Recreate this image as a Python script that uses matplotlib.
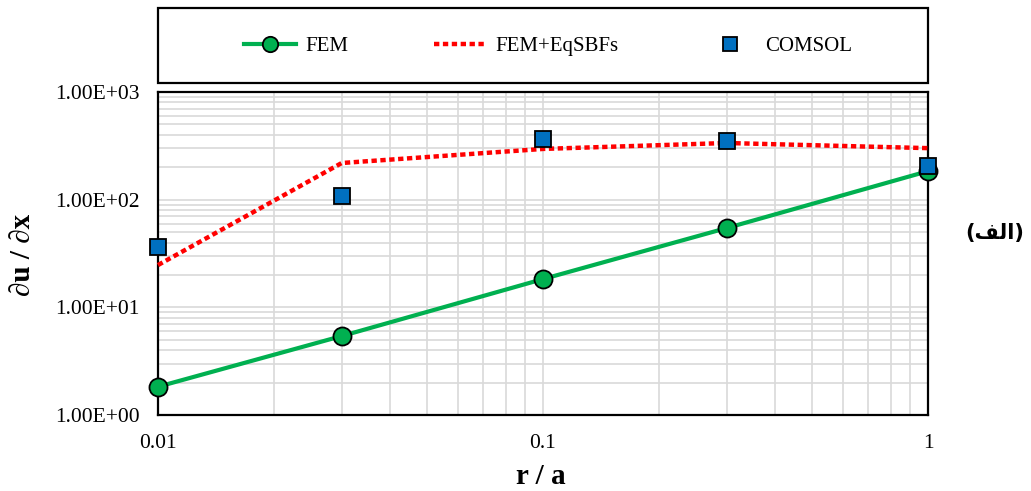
import matplotlib
matplotlib.use("Agg")
import matplotlib.pyplot as plt
from matplotlib.patches import Rectangle
from matplotlib.ticker import LogLocator, FixedLocator, FixedFormatter, NullFormatter

plt.rcParams['font.family'] = ['Liberation Serif', 'DejaVu Sans']

r_over_a = [0.01, 0.03, 0.1, 0.3, 1.0]
fem = [1.83, 5.41, 18.3, 54.5, 184]
fem_eqsbfs = [24.7, 219, 296, 336, 301]
comsol = [36.5, 109, 363, 352, 205]

x_ticks = [0.01, 0.1, 1]
x_tick_labels = ["0.01", "0.1", "1"]
y_ticks = [1, 10, 100, 1000]
y_tick_labels = ["1.00E+00", "1.00E+01", "1.00E+02", "1.00E+03"]

W, H = 1031, 491
fig = plt.figure(figsize=(W / 100, H / 100), dpi=100)
ax = fig.add_axes([158 / W, 1 - 415 / H, (928 - 158) / W, (415 - 92) / H])

grid_c = "#D9D9D9"
ax.set_xscale("log")
ax.set_yscale("log")
ax.set_xlim(0.01, 1)
ax.set_ylim(1, 1000)

ax.xaxis.set_major_locator(FixedLocator(x_ticks))
ax.xaxis.set_major_formatter(FixedFormatter(x_tick_labels))
ax.yaxis.set_major_locator(FixedLocator(y_ticks))
ax.yaxis.set_major_formatter(FixedFormatter(y_tick_labels))
ax.xaxis.set_minor_locator(LogLocator(base=10, subs=range(2, 10)))
ax.yaxis.set_minor_locator(LogLocator(base=10, subs=range(2, 10)))
ax.xaxis.set_minor_formatter(NullFormatter())
ax.yaxis.set_minor_formatter(NullFormatter())

ax.grid(True, which="both", color=grid_c, linewidth=1.2, zorder=0)
ax.set_axisbelow(True)
ax.tick_params(which="both", length=0, labelsize=15.5)
ax.tick_params(axis="y", pad=13)
ax.tick_params(axis="x", pad=14)

for s in ax.spines.values():
    s.set_linewidth(1.6)
    s.set_color("black")
    s.set_zorder(2)

ax.plot(r_over_a, fem, color="#00B050", linewidth=3, marker="o", markersize=13,
        markerfacecolor="#00B050", markeredgecolor="black", markeredgewidth=1.3,
        clip_on=False, zorder=3, label="FEM")
ax.plot(r_over_a, fem_eqsbfs, color="#FF0000", linewidth=3.2, linestyle=(0, (1.2, 0.8)),
        dash_capstyle="butt", clip_on=False, zorder=4, label="FEM+EqSBFs")
ax.plot(r_over_a, comsol, linestyle="none", marker="s", markersize=12,
        markerfacecolor="#0070C0", markeredgecolor="black", markeredgewidth=1.3,
        clip_on=False, zorder=5, label="COMSOL")

fig.text(541 / W, 1 - 476 / H, "r / a", fontsize=21, fontweight="bold",
         ha="center", va="center")
fig.text(22 / W, 1 - 255 / H, "∂u / ∂x", fontsize=21, fontweight="bold",
         ha="center", va="center", rotation=90)

# legend frame
fig.patches.append(Rectangle((158 / W, 1 - 83 / H), (928 - 158) / W, (83 - 8) / H,
                             transform=fig.transFigure, fill=False, edgecolor="black",
                             linewidth=1.6))
handles, labels = ax.get_legend_handles_labels()
leg = fig.legend(handles, labels, loc="center", bbox_to_anchor=(548 / W, 1 - 46 / H),
                 ncol=3, frameon=False, fontsize=15, handlelength=2.5,
                 handletextpad=0.45, columnspacing=4.1, markerscale=0.85)

# Arabic label "(الف)" rendered with presentation forms in visual order
arabic = "(" + "\uFED2" + "\uFEDF" + "\uFE8D" + ")"
fig.text(995 / W, 1 - 233 / H, arabic, fontsize=15, fontweight="bold",
         family=["DejaVu Sans"], ha="center", va="center")

fig.savefig("out.png", dpi=100, facecolor="white")
